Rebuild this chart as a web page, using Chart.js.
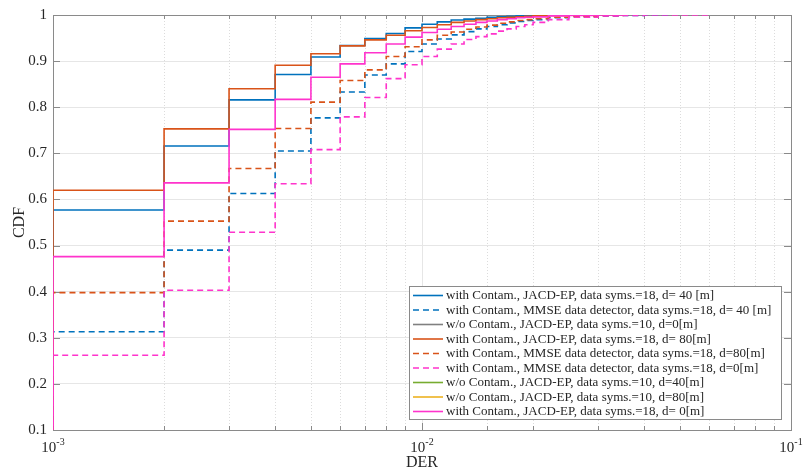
<!DOCTYPE html>
<html>
<head>
<meta charset="utf-8">
<script src="https://cdn.jsdelivr.net/npm/chart.js@4.4.0/dist/chart.umd.min.js"></script>
<style>
  html, body { margin: 0; padding: 0; background: #fff; }
  #wrap { width: 803px; height: 473px; }
</style>
</head>
<body>
<div id="wrap"><canvas id="myChart" width="803" height="473"></canvas></div>
<script>
// DER values where the empirical CDF steps
var der_vals = [0.001, 0.002, 0.003, 0.004, 0.005, 0.006, 0.007, 0.008, 0.009, 0.010,
                0.011, 0.012, 0.013, 0.014, 0.015, 0.016, 0.017, 0.018, 0.019, 0.020,
                0.022, 0.025, 0.030, 0.035, 0.040, 0.047, 0.060];

// first entry = CDF just before the first step (below the axis), then one value per der_vals entry
var cdf_jacd_d40 = [0, 0.577, 0.716, 0.816, 0.871, 0.909, 0.934, 0.949, 0.960, 0.972, 0.980,
                    0.985, 0.989, 0.991, 0.993, 0.995, 0.996, 0.997, 0.998, 0.998, 0.999,
                    0.9995, 1, 1];
var cdf_mmse_d40 = [0, 0.313, 0.490, 0.613, 0.705, 0.777, 0.833, 0.870, 0.894, 0.921, 0.937,
                    0.948, 0.957, 0.964, 0.970, 0.975, 0.979, 0.983, 0.986, 0.988, 0.990,
                    0.994, 0.996, 0.998, 0.999, 1, 1];
var cdf_nocont_d0 = [1, 1];
var cdf_jacd_d80 = [0, 0.620, 0.753, 0.840, 0.891, 0.916, 0.933, 0.946, 0.956, 0.966, 0.973,
                    0.979, 0.984, 0.987, 0.990, 0.992, 0.994, 0.995, 0.996, 0.997, 0.998,
                    0.999, 1, 1];
var cdf_mmse_d80 = [0, 0.398, 0.553, 0.667, 0.754, 0.811, 0.858, 0.881, 0.910, 0.931, 0.946,
                    0.956, 0.963, 0.969, 0.974, 0.978, 0.982, 0.985, 0.988, 0.990, 0.992,
                    0.995, 0.997, 0.999, 1];
var cdf_mmse_d0 = [0, 0.262, 0.403, 0.529, 0.634, 0.708, 0.779, 0.821, 0.862, 0.892, 0.910,
                   0.926, 0.937, 0.947, 0.953, 0.959, 0.965, 0.970, 0.975, 0.979, 0.984,
                   0.990, 0.995, 0.998, 0.999, 1, 1, 1];
var cdf_nocont_d40 = [1, 1];
var cdf_nocont_d80 = [1, 1];
var cdf_jacd_d0 = [0, 0.476, 0.636, 0.752, 0.817, 0.865, 0.894, 0.918, 0.937, 0.952, 0.962,
                   0.969, 0.975, 0.980, 0.984, 0.987, 0.990, 0.992, 0.994, 0.995, 0.996,
                   0.998, 0.999, 1, 1];

var series_labels = [
  'with Contam., JACD-EP, data syms.=18, d= 40 [m]',
  'with Contam., MMSE data detector, data syms.=18, d= 40 [m]',
  'w/o Contam., JACD-EP, data syms.=10, d=0[m]',
  'with Contam., JACD-EP, data syms.=18, d= 80[m]',
  'with Contam., MMSE data detector, data syms.=18, d=80[m]',
  'with Contam., MMSE data detector, data syms.=18, d=0[m]',
  'w/o Contam., JACD-EP, data syms.=10, d=40[m]',
  'w/o Contam., JACD-EP, data syms.=10, d=80[m]',
  'with Contam., JACD-EP, data syms.=18, d= 0[m]'
];
var series_data = [cdf_jacd_d40, cdf_mmse_d40, cdf_nocont_d0, cdf_jacd_d80, cdf_mmse_d80,
                   cdf_mmse_d0, cdf_nocont_d40, cdf_nocont_d80, cdf_jacd_d0];
var series_colors = ['#0072BD', '#0072BD', '#808080', '#D95319', '#D95319',
                     '#FF33CC', '#77AC30', '#EDB120', '#FF33CC'];
var series_dashed = [false, true, false, false, true, true, false, false, false];

var y_ticks = [0.1, 0.2, 0.3, 0.4, 0.5, 0.6, 0.7, 0.8, 0.9, 1];

var serif = '"Liberation Serif", "DejaVu Serif", serif';

function stairPoints(arr) {
  var pts = [{x: der_vals[0], y: arr[0]}];
  for (var i = 1; i < arr.length; i++) {
    pts.push({x: der_vals[i - 1], y: arr[i]});
  }
  return pts;
}

function isDecade(v) {
  var l = Math.log10(v);
  return Math.abs(l - Math.round(l)) < 1e-6;
}

var datasets = [];
for (var i = 0; i < series_data.length; i++) {
  datasets.push({
    label: series_labels[i],
    data: stairPoints(series_data[i]),
    borderColor: series_colors[i],
    borderWidth: 1.6,
    borderDash: series_dashed[i] ? [6, 4] : [],
    borderCapStyle: 'butt',
    stepped: true,
    fill: false,
    pointRadius: 0,
    order: -i
  });
}

var matlabLook = {
  id: 'matlabLook',
  beforeDatasetsDraw: function(chart) {
    var ctx = chart.ctx, a = chart.chartArea;
    var xs = chart.scales.x, ys = chart.scales.y;
    ctx.save();
    // dotted minor grid
    ctx.strokeStyle = '#dcdcdc';
    ctx.lineWidth = 1;
    ctx.setLineDash([1, 2]);
    xs.ticks.forEach(function(t) {
      if (isDecade(t.value)) return;
      var px = Math.round(xs.getPixelForValue(t.value)) + 0.5;
      ctx.beginPath(); ctx.moveTo(px, a.top); ctx.lineTo(px, a.bottom); ctx.stroke();
    });
    ctx.setLineDash([]);
    // box
    ctx.strokeStyle = '#8a8a8a';
    ctx.strokeRect(Math.round(a.left) + 0.5, Math.round(a.top) + 0.5,
                   Math.round(a.right - a.left), Math.round(a.bottom - a.top));
    // inward ticks
    xs.ticks.forEach(function(t) {
      var px = Math.round(xs.getPixelForValue(t.value)) + 0.5;
      var len = isDecade(t.value) ? 7 : 4;
      ctx.beginPath();
      ctx.moveTo(px, a.bottom); ctx.lineTo(px, a.bottom - len);
      ctx.moveTo(px, a.top); ctx.lineTo(px, a.top + len);
      ctx.stroke();
    });
    ys.ticks.forEach(function(t) {
      var py = Math.round(ys.getPixelForValue(t.value)) + 0.5;
      ctx.beginPath();
      ctx.moveTo(a.left, py); ctx.lineTo(a.left + 7, py);
      ctx.moveTo(a.right, py); ctx.lineTo(a.right - 7, py);
      ctx.stroke();
    });
    ctx.restore();
  },
  afterDraw: function(chart) {
    var ctx = chart.ctx, a = chart.chartArea;
    var xs = chart.scales.x;
    ctx.save();
    // x tick labels as 10^n
    ctx.fillStyle = '#262626';
    xs.ticks.forEach(function(t) {
      if (!isDecade(t.value)) return;
      var px = xs.getPixelForValue(t.value);
      var ex = String(Math.round(Math.log10(t.value)));
      ctx.font = '15px ' + serif;
      var w1 = ctx.measureText('10').width;
      ctx.font = '10px ' + serif;
      var w2 = ctx.measureText(ex).width;
      var x0 = px - (w1 + w2) / 2;
      ctx.textBaseline = 'alphabetic';
      ctx.textAlign = 'left';
      ctx.font = '15px ' + serif;
      ctx.fillText('10', x0, a.bottom + 22);
      ctx.font = '10px ' + serif;
      ctx.fillText(ex, x0 + w1, a.bottom + 15);
    });
    // legend box inside the axes, lower right
    var lx = 409, ly = 286, lw = 372, lh = 133, rowH = 14.5;
    ctx.fillStyle = '#fff';
    ctx.fillRect(lx, ly, lw, lh);
    ctx.strokeStyle = '#8a8a8a';
    ctx.lineWidth = 1;
    ctx.strokeRect(lx + 0.5, ly + 0.5, lw, lh);
    ctx.font = '13px ' + serif;
    ctx.textBaseline = 'middle';
    ctx.textAlign = 'left';
    chart.data.datasets.forEach(function(ds, i) {
      var y = ly + 9.5 + i * rowH;
      ctx.strokeStyle = ds.borderColor;
      ctx.lineWidth = 1.6;
      ctx.setLineDash(ds.borderDash);
      ctx.beginPath(); ctx.moveTo(lx + 4, y); ctx.lineTo(lx + 34, y); ctx.stroke();
      ctx.setLineDash([]);
      ctx.fillStyle = '#262626';
      ctx.fillText(ds.label, lx + 37, y + 0.5);
    });
    ctx.restore();
  }
};

var ctx = document.getElementById('myChart').getContext('2d');
var myChart = new Chart(ctx, {
  type: 'line',
  data: { datasets: datasets },
  options: {
    responsive: false,
    animation: false,
    events: [],
    layout: { padding: { top: 12, right: 12, left: 0, bottom: 0 } },
    plugins: { legend: { display: false }, tooltip: { enabled: false } },
    scales: {
      x: {
        type: 'logarithmic',
        min: 0.001,
        max: 0.1,
        afterFit: function(scale) { scale.height = 43; },
        grid: {
          drawTicks: false,
          color: function(c) { return (c.tick && isDecade(c.tick.value)) ? '#e6e6e6' : 'rgba(0,0,0,0)'; }
        },
        border: { display: false },
        ticks: {
          autoSkip: false,
          maxRotation: 0,
          callback: function() { return ''; }
        },
        title: {
          display: true,
          text: 'DER',
          color: '#262626',
          font: { family: serif, size: 16 },
          padding: { top: 0, bottom: 1 }
        }
      },
      y: {
        type: 'linear',
        min: 0.1,
        max: 1,
        afterFit: function(scale) { scale.width = 53; },
        afterBuildTicks: function(scale) {
          scale.ticks = y_ticks.map(function(v) { return {value: v}; });
        },
        grid: { drawTicks: false, color: '#e6e6e6' },
        border: { display: false },
        ticks: {
          padding: 6,
          color: '#262626',
          font: { family: serif, size: 15 },
          callback: function(v) { return String(Math.round(v * 10) / 10); }
        },
        title: {
          display: true,
          text: 'CDF',
          color: '#262626',
          font: { family: serif, size: 16 },
          padding: { top: 10, bottom: 0 }
        }
      }
    }
  },
  plugins: [matlabLook]
});
</script>
</body>
</html>
